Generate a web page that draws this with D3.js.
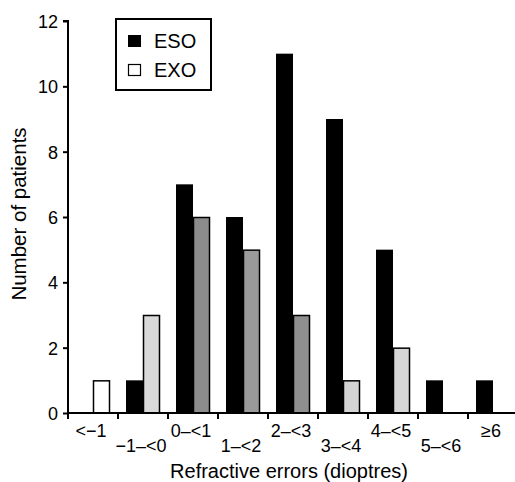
<!DOCTYPE html>
<html>
<head>
<meta charset="utf-8">
<script src="https://cdn.jsdelivr.net/npm/d3@7"></script>
<style>
  body { margin: 0; background: #fff; }
  text { font-family: "Liberation Sans", Arial, sans-serif; fill: #000; }
</style>
</head>
<body>
<div id="chart"></div>
<script>
// data
var categories = ["<\u22121", "\u22121\u2013<0", "0\u2013<1", "1\u2013<2", "2\u2013<3", "3\u2013<4", "4\u2013<5", "5\u2013<6", "\u22656"];
var esoValues = [0, 1, 7, 6, 11, 9, 5, 1, 1];
var exoValues = [1, 3, 6, 5, 3, 1, 2, 0, 0];
var yTicks = [0, 2, 4, 6, 8, 10, 12];

// shading of the stippled EXO bars, by category
var exoShade = ["#ffffff", "#d9d9d9", "#8c8c8c", "#9a9a9a", "#8f8f8f", "#d4d4d4", "#d6d6d6", "#ffffff", "#ffffff"];

var svgWidth = 515;
var svgHeight = 482;
var margin = { top: 21, right: 0, bottom: 69, left: 68 };
var height = svgHeight - margin.top - margin.bottom;

var svg = d3.select("#chart")
    .append("svg")
    .attr("width", svgWidth)
    .attr("height", svgHeight);

var chartGroup = svg.append("g")
    .attr("transform", `translate(${margin.left}, ${margin.top})`);

// each category takes 50px, x axis runs off the right edge
var xScale = d3.scaleBand()
    .domain(categories)
    .range([0, 50 * categories.length]);

var yScale = d3.scaleLinear()
    .domain([0, 12])
    .range([height, 0]);

var barW = 17;

// bars: ESO (left of centre)
esoValues.forEach(function(v, i) {
    if (v <= 0) return;
    var cx = xScale(categories[i]) + xScale.bandwidth() / 2;
    chartGroup.append("rect")
        .attr("x", cx - barW)
        .attr("y", yScale(v))
        .attr("width", barW)
        .attr("height", height - yScale(v))
        .attr("fill", "#000");
});

// bars: EXO (right of centre)
exoValues.forEach(function(v, i) {
    if (v <= 0) return;
    var cx = xScale(categories[i]) + xScale.bandwidth() / 2;
    chartGroup.append("rect")
        .attr("x", cx + 0.5)
        .attr("y", yScale(v) + 0.5)
        .attr("width", barW - 1)
        .attr("height", height - yScale(v) - 0.5)
        .attr("fill", exoShade[i])
        .attr("stroke", "#000")
        .attr("stroke-width", 1.5);
});

// y axis
var leftAxis = d3.axisLeft(yScale)
    .tickValues(yTicks)
    .tickSize(5)
    .tickPadding(5);

var yAxis = chartGroup.append("g")
    .call(leftAxis);
yAxis.select(".domain").attr("stroke-width", 2).attr("d", `M-5,0H0V${height}`);
yAxis.selectAll(".tick line").attr("stroke-width", 2);
yAxis.selectAll(".tick text")
    .attr("font-size", "18px")
    .attr("font-family", "Liberation Sans, Arial, sans-serif")
    .attr("dy", "0.36em");

// x axis: ticks at category boundaries
var xAxisG = chartGroup.append("g")
    .attr("transform", `translate(0, ${height})`);
xAxisG.append("line")
    .attr("x1", 0)
    .attr("x2", svgWidth - margin.left)
    .attr("stroke", "#000")
    .attr("stroke-width", 2);
xAxisG.selectAll(".xtick")
    .data(categories)
    .enter()
    .append("line")
    .attr("x1", d => xScale(d))
    .attr("x2", d => xScale(d))
    .attr("y1", 0)
    .attr("y2", 6)
    .attr("stroke", "#000")
    .attr("stroke-width", 2);

// staggered category labels
xAxisG.selectAll(".xlabel")
    .data(categories)
    .enter()
    .append("text")
    .attr("x", d => xScale(d) + xScale.bandwidth() / 2 - 2)
    .attr("y", (d, i) => i % 2 === 0 ? 24 : 39)
    .attr("text-anchor", "middle")
    .attr("font-size", "18px")
    .text(d => d);

// axis titles
svg.append("text")
    .attr("x", 289)
    .attr("y", 478)
    .attr("text-anchor", "middle")
    .attr("font-size", "20px")
    .text("Refractive errors (dioptres)");

svg.append("text")
    .attr("transform", "translate(26, 214) rotate(-90)")
    .attr("text-anchor", "middle")
    .attr("font-size", "20.5px")
    .text("Number of patients");

// legend
var legend = svg.append("g");
legend.append("rect")
    .attr("x", 116)
    .attr("y", 19)
    .attr("width", 95)
    .attr("height", 71)
    .attr("fill", "#fff")
    .attr("stroke", "#000")
    .attr("stroke-width", 2);
legend.append("rect")
    .attr("x", 128).attr("y", 35).attr("width", 13).attr("height", 12)
    .attr("fill", "#000");
legend.append("rect")
    .attr("x", 128.5).attr("y", 64.5).attr("width", 12).attr("height", 11)
    .attr("fill", "#fff").attr("stroke", "#000").attr("stroke-width", 1.2);
legend.append("text")
    .attr("x", 154).attr("y", 48)
    .attr("font-size", "20px")
    .text("ESO");
legend.append("text")
    .attr("x", 154).attr("y", 77)
    .attr("font-size", "20px")
    .text("EXO");
</script>
</body>
</html>
